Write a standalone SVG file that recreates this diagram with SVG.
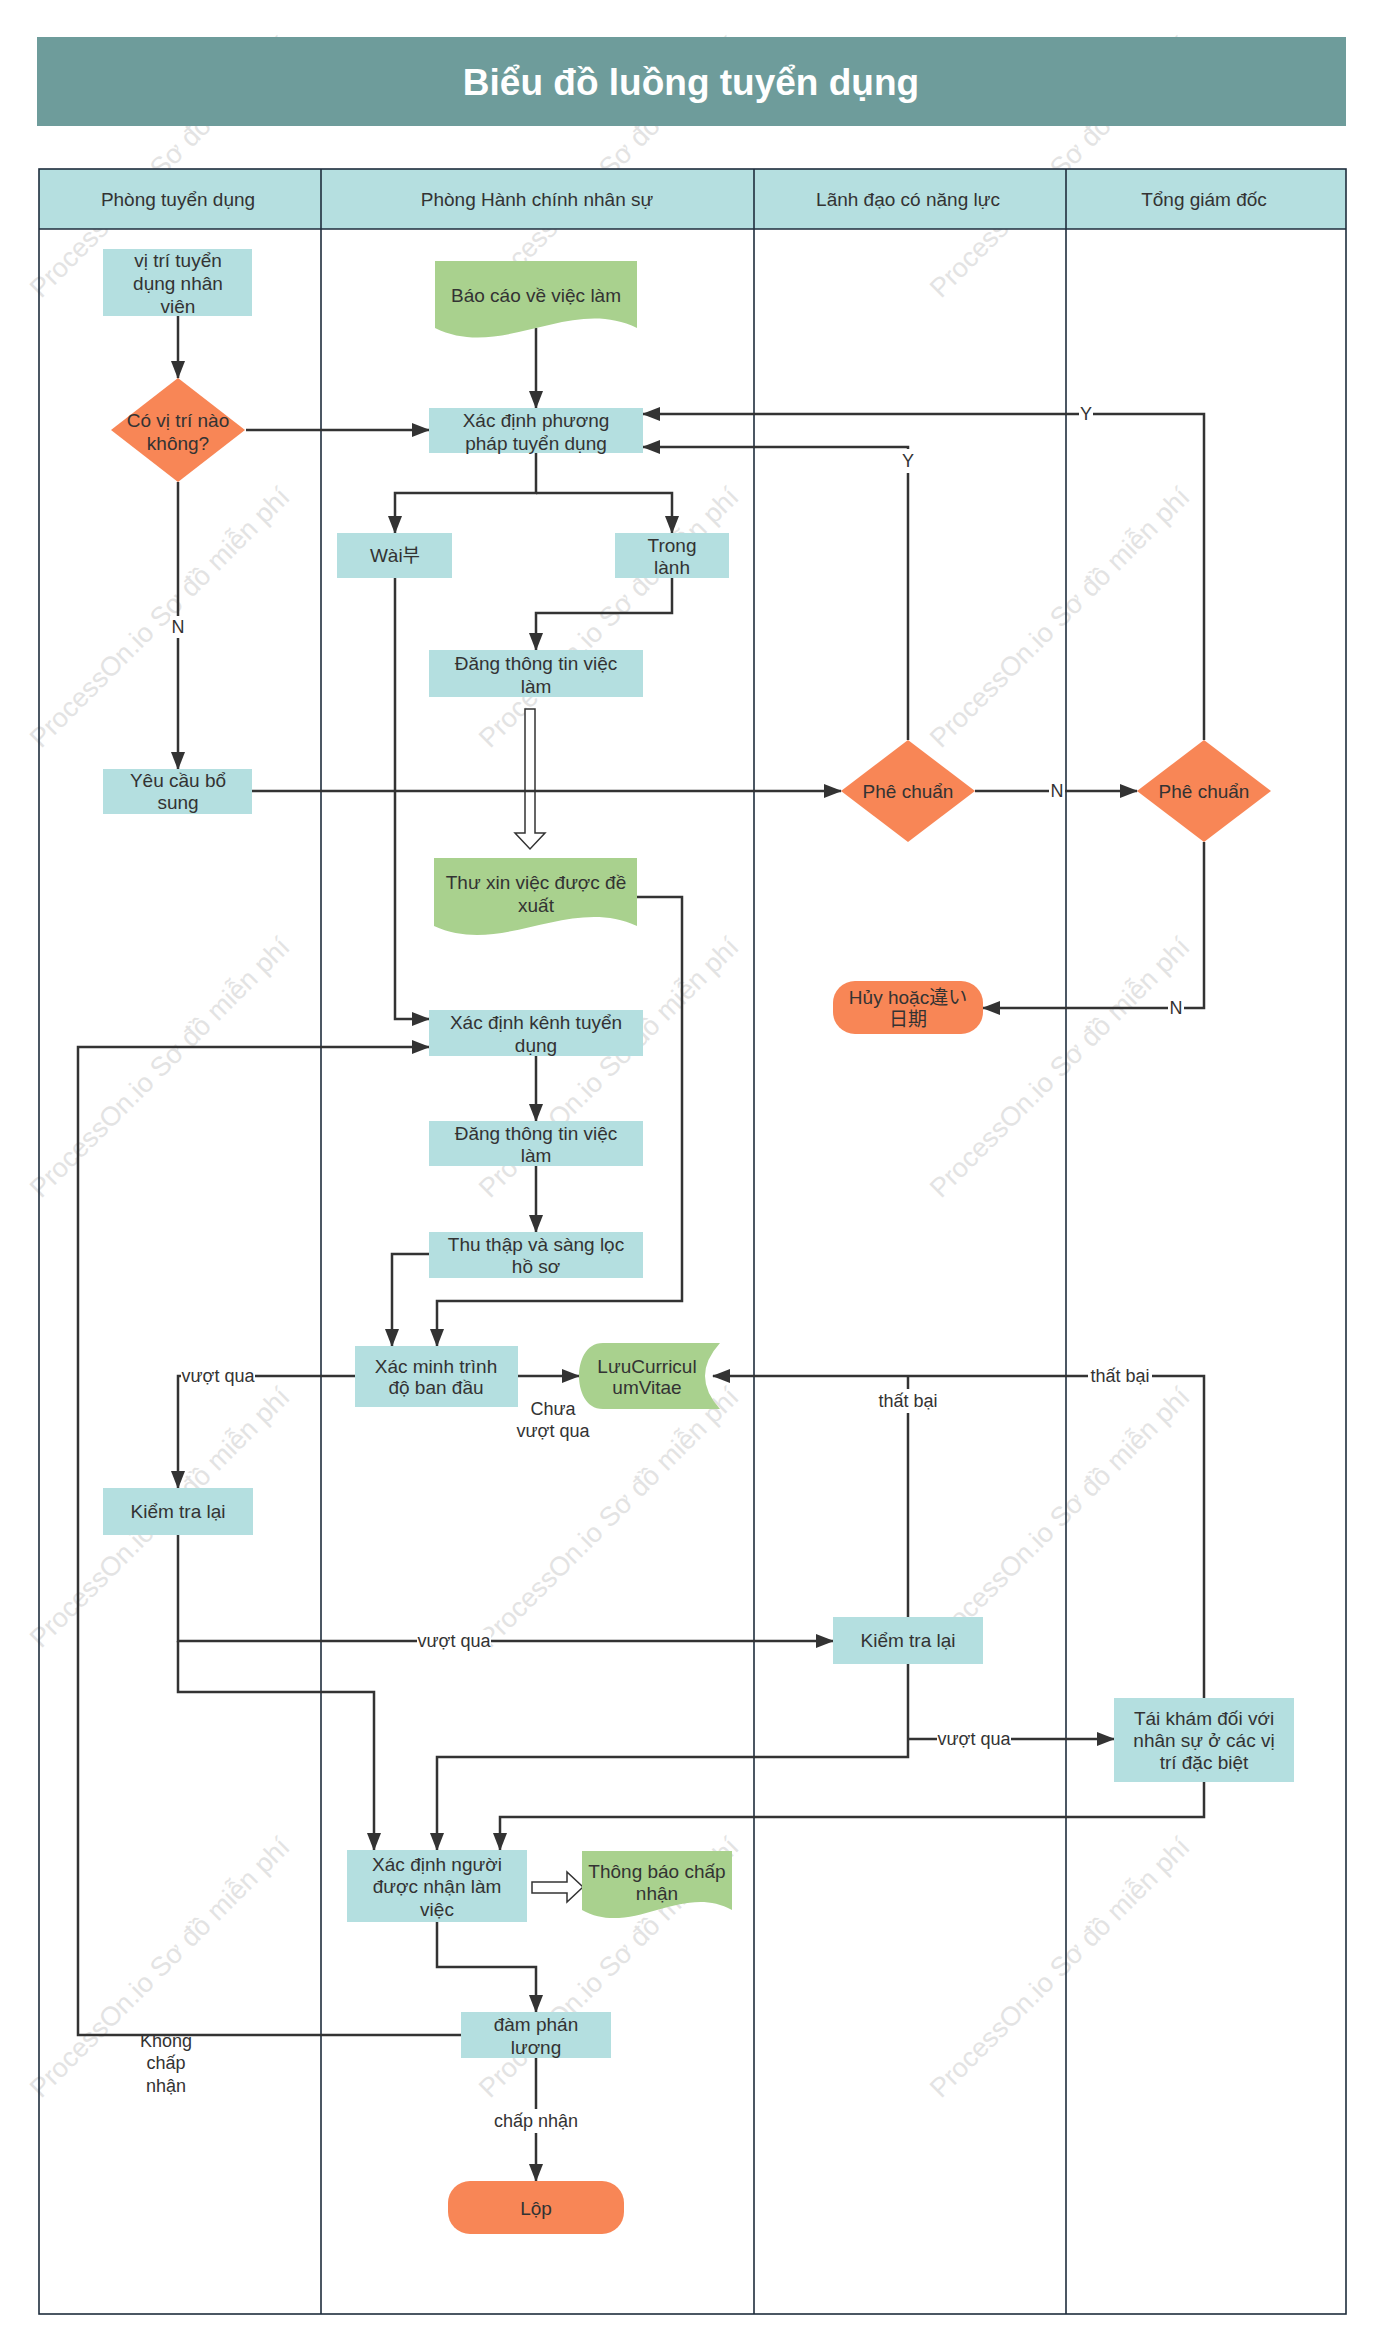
<svg xmlns="http://www.w3.org/2000/svg" width="1382" height="2350" viewBox="0 0 1382 2350">
<defs>
<style>
.wm{font-family:"Liberation Sans",sans-serif;font-size:27px;fill:#e3e3e3}
.t{font-family:"Liberation Sans","Noto Sans CJK JP",sans-serif;font-size:19px;fill:#333;text-anchor:middle;dominant-baseline:central}
.kr{font-family:"Liberation Sans","Noto Sans CJK KR",sans-serif}
.lbl{font-size:18px}
.bg{fill:#fff}
.hd{font-size:19px}
.node{fill:#b4dfe0}
.doc{fill:#a9d18e}
.term{fill:#f88656}
.c{fill:none;stroke:#333;stroke-width:2.5}
.a{marker-end:url(#ah)}
.lane{fill:none;stroke:#1f2d3d;stroke-width:1.6}
.hollow{fill:#fff;stroke:#333;stroke-width:1.5}
</style>
<marker id="ah" markerUnits="userSpaceOnUse" markerWidth="18" markerHeight="14" refX="17" refY="7" orient="auto">
<path d="M0,0 L18,7 L0,14 z" fill="#333"/>
</marker>
</defs>
<rect width="1382" height="2350" fill="#fff"/>
<g id="watermarks">
<text class="wm" transform="translate(41,299) rotate(-45)">ProcessOn.io Sơ đồ miễn phí</text>
<text class="wm" transform="translate(490,299) rotate(-45)">ProcessOn.io Sơ đồ miễn phí</text>
<text class="wm" transform="translate(941,299) rotate(-45)">ProcessOn.io Sơ đồ miễn phí</text>
<text class="wm" transform="translate(41,749) rotate(-45)">ProcessOn.io Sơ đồ miễn phí</text>
<text class="wm" transform="translate(490,749) rotate(-45)">ProcessOn.io Sơ đồ miễn phí</text>
<text class="wm" transform="translate(941,749) rotate(-45)">ProcessOn.io Sơ đồ miễn phí</text>
<text class="wm" transform="translate(41,1199) rotate(-45)">ProcessOn.io Sơ đồ miễn phí</text>
<text class="wm" transform="translate(490,1199) rotate(-45)">ProcessOn.io Sơ đồ miễn phí</text>
<text class="wm" transform="translate(941,1199) rotate(-45)">ProcessOn.io Sơ đồ miễn phí</text>
<text class="wm" transform="translate(41,1649) rotate(-45)">ProcessOn.io Sơ đồ miễn phí</text>
<text class="wm" transform="translate(490,1649) rotate(-45)">ProcessOn.io Sơ đồ miễn phí</text>
<text class="wm" transform="translate(941,1649) rotate(-45)">ProcessOn.io Sơ đồ miễn phí</text>
<text class="wm" transform="translate(41,2099) rotate(-45)">ProcessOn.io Sơ đồ miễn phí</text>
<text class="wm" transform="translate(490,2099) rotate(-45)">ProcessOn.io Sơ đồ miễn phí</text>
<text class="wm" transform="translate(941,2099) rotate(-45)">ProcessOn.io Sơ đồ miễn phí</text>
</g>
<g id="title">
<rect x="37" y="37" width="1309" height="89" fill="#6e9c9b"/>
<text x="691" y="82" style="font-family:'Liberation Sans',sans-serif;font-size:37px;font-weight:bold;fill:#fff;text-anchor:middle;dominant-baseline:central">Biểu đồ luồng tuyển dụng</text>
</g>
<g id="lanes">
<rect x="39" y="169" width="1307" height="60" fill="#b5dfe0"/>
<rect class="lane" x="39" y="169" width="1307" height="2145"/>
<line class="lane" x1="39" y1="229" x2="1346" y2="229"/>
<line class="lane" x1="321" y1="169" x2="321" y2="2314"/>
<line class="lane" x1="754" y1="169" x2="754" y2="2314"/>
<line class="lane" x1="1066" y1="169" x2="1066" y2="2314"/>
<text class="t hd" x="178" y="199">Phòng tuyển dụng</text>
<text class="t hd" x="537" y="199">Phòng Hành chính nhân sự</text>
<text class="t hd" x="908" y="199">Lãnh đạo có năng lực</text>
<text class="t hd" x="1204" y="199">Tổng giám đốc</text>
</g>
<g id="connectors">
<path class="c a" d="M178,316 V378"/>
<path class="c a" d="M246,430 H429"/>
<path class="c a" d="M536,328 V408"/>
<path class="c a" d="M536,453 V493 H395 V533"/>
<path class="c a" d="M536,493 H672 V533"/>
<path class="c a" d="M672,578 V613 H536 V650"/>
<path class="c a" d="M395,578 V1019 H429"/>
<path class="hollow" d="M525,709 H535 V833 H545 L530,849 L515,833 H525 Z"/>
<path class="c a" d="M637,897 H682 V1301 H437 V1346"/>
<path class="c a" d="M429,1254 H392 V1346"/>
<path class="c a" d="M536,1056 V1121"/>
<path class="c a" d="M536,1166 V1232"/>
<path class="c a" d="M518,1376 H579"/>
<path class="c a" d="M355,1376 H178 V1488"/>
<path class="c a" d="M178,1535 V1641 H833"/>
<path class="c a" d="M178,1641 V1692 H374 V1850"/>
<path class="c a" d="M908,1664 V1757 H437 V1850"/>
<path class="c a" d="M908,1739 H1114"/>
<path class="c" d="M908,1617 V1376"/>
<path class="c a" d="M1204,1698 V1376 H713"/>
<path class="c a" d="M1204,1782 V1817 H500 V1850"/>
<path class="c a" d="M437,1922 V1967 H536 V2012"/>
<path class="c a" d="M461,2035 H78 V1047 H429"/>
<path class="c a" d="M536,2058 V2181"/>
<path class="c a" d="M178,482 V769"/>
<path class="c a" d="M252,791 H841"/>
<path class="c a" d="M975,791 H1137"/>
<path class="c a" d="M908,740 V447 H643"/>
<path class="c a" d="M1204,740 V414 H643"/>
<path class="c a" d="M1204,842 V1008 H983"/>
<path class="hollow" d="M532,1882 H567 V1872 L583,1887 L567,1902 V1893 H532 Z"/>
<rect class="bg" x="170" y="616" width="16" height="22"/>
<text class="t lbl" x="178" y="627">N</text>
<rect class="bg" x="901" y="449" width="14" height="24"/>
<text class="t lbl" x="908" y="461">Y</text>
<rect class="bg" x="1079" y="403" width="14" height="22"/>
<text class="t lbl" x="1086" y="414">Y</text>
<rect class="bg" x="1049" y="780" width="16" height="22"/>
<text class="t lbl" x="1057" y="791">N</text>
<rect class="bg" x="1168" y="997" width="16" height="22"/>
<text class="t lbl" x="1176" y="1008">N</text>
<rect class="bg" x="181" y="1365" width="74" height="22"/>
<text class="t lbl" x="218" y="1376">vượt qua</text>
<text class="t lbl" x="553" y="1409">Chưa</text>
<text class="t lbl" x="553" y="1431">vượt qua</text>
<rect class="bg" x="876" y="1389" width="64" height="24"/>
<text class="t lbl" x="908" y="1401">thất bại</text>
<rect class="bg" x="1088" y="1365" width="64" height="22"/>
<text class="t lbl" x="1120" y="1376">thất bại</text>
<rect class="bg" x="417" y="1630" width="74" height="22"/>
<text class="t lbl" x="454" y="1641">vượt qua</text>
<rect class="bg" x="937" y="1728" width="74" height="22"/>
<text class="t lbl" x="974" y="1739">vượt qua</text>
<text class="t lbl" x="166" y="2041">Không</text>
<text class="t lbl" x="166" y="2063">chấp</text>
<text class="t lbl" x="166" y="2086">nhận</text>
<rect class="bg" x="495" y="2109" width="82" height="24"/>
<text class="t lbl" x="536" y="2121">chấp nhận</text>
</g>
<g id="n-vitri">
<rect class="node" x="103" y="249" width="149" height="67"/>
<text class="t" x="178" y="260">vị trí tuyển</text>
<text class="t" x="178" y="283">dụng nhân</text>
<text class="t" x="178" y="306">viên</text>
</g>
<g id="n-covitri">
<path class="term" d="M178,378 L245,430 L178,482 L111,430 Z"/>
<text class="t" x="178" y="420">Có vị trí nào</text>
<text class="t" x="178" y="443">không?</text>
</g>
<g id="n-baocao">
<path class="doc" d="M435,261 H637 V328 C570,295 502,361 435,328 Z"/>
<text class="t" x="536" y="295">Báo cáo về việc làm</text>
</g>
<g id="n-phuongphap">
<rect class="node" x="429" y="408" width="214" height="45"/>
<text class="t" x="536" y="420">Xác định phương</text>
<text class="t" x="536" y="443">pháp tuyển dụng</text>
</g>
<g id="n-wai">
<rect class="node" x="337" y="533" width="115" height="45"/>
<text class="t kr" x="395" y="555">Wài부</text>
</g>
<g id="n-tronglanh">
<rect class="node" x="615" y="533" width="114" height="45"/>
<text class="t" x="672" y="545">Trong</text>
<text class="t" x="672" y="567">lành</text>
</g>
<g id="n-dang1">
<rect class="node" x="429" y="650" width="214" height="47"/>
<text class="t" x="536" y="663">Đăng thông tin việc</text>
<text class="t" x="536" y="686">làm</text>
</g>
<g id="n-thuxin">
<path class="doc" d="M434,858 H637 V926 C569,895 502,957 434,926 Z"/>
<text class="t" x="536" y="882">Thư xin việc được đề</text>
<text class="t" x="536" y="905">xuất</text>
</g>
<g id="n-yeucau">
<rect class="node" x="103" y="769" width="149" height="45"/>
<text class="t" x="178" y="780">Yêu cầu bổ</text>
<text class="t" x="178" y="802">sung</text>
</g>
<g id="n-pheduyet1">
<path class="term" d="M908,740 L975,791 L908,842 L841,791 Z"/>
<text class="t" x="908" y="791">Phê chuẩn</text>
</g>
<g id="n-pheduyet2">
<path class="term" d="M1204,740 L1271,791 L1204,842 L1137,791 Z"/>
<text class="t" x="1204" y="791">Phê chuẩn</text>
</g>
<g id="n-huy">
<rect class="term" x="833" y="981" width="150" height="53" rx="22" ry="22"/>
<text class="t" x="908" y="997">Hủy hoặc違い</text>
<text class="t" x="908" y="1019">日期</text>
</g>
<g id="n-kenh">
<rect class="node" x="429" y="1010" width="214" height="46"/>
<text class="t" x="536" y="1022">Xác định kênh tuyển</text>
<text class="t" x="536" y="1045">dụng</text>
</g>
<g id="n-dang2">
<rect class="node" x="429" y="1121" width="214" height="45"/>
<text class="t" x="536" y="1133">Đăng thông tin việc</text>
<text class="t" x="536" y="1155">làm</text>
</g>
<g id="n-thuthap">
<rect class="node" x="429" y="1232" width="214" height="46"/>
<text class="t" x="536" y="1244">Thu thập và sàng lọc</text>
<text class="t" x="536" y="1266">hồ sơ</text>
</g>
<g id="n-xacminh">
<rect class="node" x="355" y="1346" width="163" height="61"/>
<text class="t" x="436" y="1366">Xác minh trình</text>
<text class="t" x="436" y="1387">độ ban đầu</text>
</g>
<g id="n-luucv">
<path class="doc" d="M603,1343 H720 Q690,1376 720,1409 H603 C585,1409 579,1390 579,1376 C579,1362 585,1343 603,1343 Z"/>
<text class="t" x="647" y="1366">LưuCurricul</text>
<text class="t" x="647" y="1387">umVitae</text>
</g>
<g id="n-kiemtra1">
<rect class="node" x="103" y="1488" width="150" height="47"/>
<text class="t" x="178" y="1511">Kiểm tra lại</text>
</g>
<g id="n-kiemtra2">
<rect class="node" x="833" y="1617" width="150" height="47"/>
<text class="t" x="908" y="1640">Kiểm tra lại</text>
</g>
<g id="n-taikham">
<rect class="node" x="1114" y="1698" width="180" height="84"/>
<text class="t" x="1204" y="1718">Tái khám đối với</text>
<text class="t" x="1204" y="1740">nhân sự ở các vị</text>
<text class="t" x="1204" y="1762">trí đặc biệt</text>
</g>
<g id="n-xacdinhnguoi">
<rect class="node" x="347" y="1850" width="180" height="72"/>
<text class="t" x="437" y="1864">Xác định người</text>
<text class="t" x="437" y="1886">được nhận làm</text>
<text class="t" x="437" y="1909">việc</text>
</g>
<g id="n-thongbao">
<path class="doc" d="M582,1851 H732 V1910 C682,1882 632,1938 582,1910 Z"/>
<text class="t" x="657" y="1871">Thông báo chấp</text>
<text class="t" x="657" y="1893">nhận</text>
</g>
<g id="n-damphan">
<rect class="node" x="461" y="2012" width="150" height="46"/>
<text class="t" x="536" y="2024">đàm phán</text>
<text class="t" x="536" y="2047">lương</text>
</g>
<g id="n-lop">
<rect class="term" x="448" y="2181" width="176" height="53" rx="22" ry="22"/>
<text class="t" x="536" y="2208">Lộp</text>
</g>
</svg>
